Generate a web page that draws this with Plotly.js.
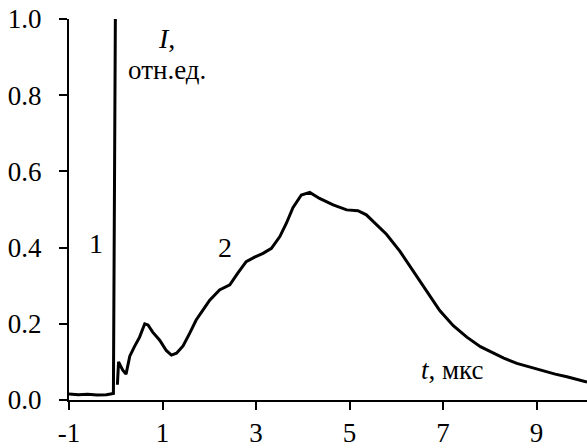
<!DOCTYPE html>
<html>
<head>
<meta charset="utf-8">
<script src="https://cdn.plot.ly/plotly-3.0.1.min.js"></script>
<style>
  html, body { margin: 0; padding: 0; background: #fff; }
  #chart { width: 587px; height: 448px; }
</style>
</head>
<body>
<div id="chart"></div>
<script>
// Curve 1: pre-trigger baseline and the short pulse at t = 0 (µs, rel. units)
const t1 = [-1.0, -0.8, -0.6, -0.4, -0.2, -0.05, 0.0, 0.035];
const i1 = [0.016, 0.014, 0.015, 0.013, 0.014, 0.017, 1.2, 1.2];

// Curve 2: the broad emission that follows the pulse
const t2 = [0.035, 0.06, 0.1, 0.15, 0.22, 0.30, 0.40, 0.51, 0.62, 0.69, 0.79, 0.94,
            1.08, 1.19, 1.30, 1.44, 1.58, 1.72, 1.86, 2.01, 2.22, 2.44, 2.61, 2.79,
            2.97, 3.15, 3.33, 3.51, 3.65, 3.79, 3.97, 4.15, 4.36, 4.65, 4.94, 5.18,
            5.36, 5.58, 5.79, 6.08, 6.3, 6.5, 6.93, 7.22, 7.51, 7.8, 8.0, 8.3, 8.58,
            8.9, 9.15, 9.4, 9.65, 9.85, 10.08];
const i2 = [0.04, 0.10, 0.09, 0.078, 0.068, 0.115, 0.14, 0.165, 0.20, 0.197, 0.178, 0.157,
            0.13, 0.118, 0.123, 0.142, 0.175, 0.21, 0.235, 0.262, 0.289, 0.302, 0.333, 0.363,
            0.375, 0.385, 0.398, 0.429, 0.464, 0.505, 0.538, 0.545, 0.529, 0.512, 0.499, 0.497,
            0.486, 0.459, 0.435, 0.39, 0.35, 0.315, 0.235, 0.195, 0.165, 0.14, 0.128, 0.11, 0.096,
            0.085, 0.076, 0.068, 0.061, 0.055, 0.047];

const xTicks = [-1, 1, 3, 5, 7, 9];
const yTicks = [0, 0.2, 0.4, 0.6, 0.8, 1.0];

const FONT = '"Liberation Serif", "Times New Roman", Times, serif';
const FS = 27;

const lineStyle = { color: '#000', width: 3 };

const traces = [
  { x: t1, y: i1, mode: 'lines', line: lineStyle, hoverinfo: 'skip' },
  { x: t2, y: i2, mode: 'lines', line: lineStyle, hoverinfo: 'skip' }
];

const tickFont = { family: FONT, size: FS, color: '#000' };

const layout = {
  width: 587, height: 448,
  margin: { l: 69, r: 0, t: 19, b: 48 },
  paper_bgcolor: '#fff', plot_bgcolor: '#fff',
  showlegend: false,
  font: { family: FONT, size: FS, color: '#000' },
  xaxis: {
    range: [-1, 10.08], tickvals: xTicks, ticktext: xTicks.map(String),
    showgrid: false, zeroline: false, showline: true,
    linecolor: '#000', linewidth: 2,
    ticks: 'outside', ticklen: 8, tickwidth: 2, tickcolor: '#000',
    tickfont: tickFont
  },
  yaxis: {
    range: [0, 1], tickvals: yTicks, ticktext: yTicks.map(v => v.toFixed(1)),
    showgrid: false, zeroline: false, showline: true,
    linecolor: '#000', linewidth: 2,
    ticks: 'outside', ticklen: 8, tickwidth: 2, tickcolor: '#000',
    tickfont: tickFont, ticklabelstandoff: 12
  },
  annotations: [
    { x: -0.43, y: 0.41, xref: 'x', yref: 'y', text: '1', showarrow: false,
      font: { family: FONT, size: 28 } },
    { x: 2.33, y: 0.40, xref: 'x', yref: 'y', text: '2', showarrow: false,
      font: { family: FONT, size: 28 } },
    { x: 1.09, y: 0.95, xref: 'x', yref: 'y', text: '<i>I</i>,', showarrow: false,
      font: { family: FONT, size: 28 } },
    { x: 1.09, y: 0.866, xref: 'x', yref: 'y', text: 'отн.ед.', showarrow: false,
      font: { family: FONT, size: 27 } },
    { x: 7.21, y: 0.079, xref: 'x', yref: 'y', text: '<i>t</i>, мкс', showarrow: false,
      font: { family: FONT, size: 27 } }
  ]
};

Plotly.newPlot('chart', traces, layout, { staticPlot: true, displayModeBar: false });
</script>
</body>
</html>
